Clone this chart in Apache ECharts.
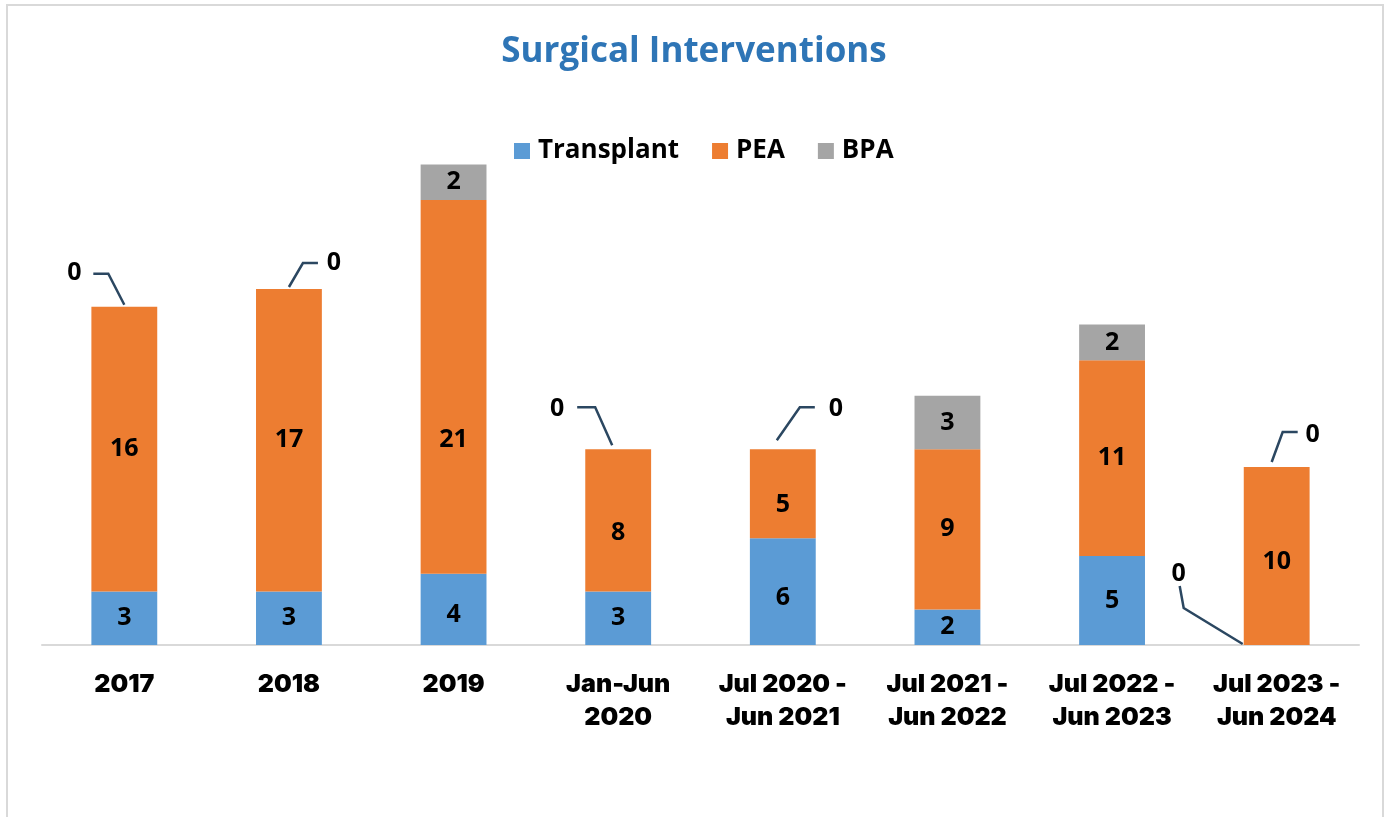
<!DOCTYPE html>
<html><head><meta charset="utf-8">
<script src="https://cdn.jsdelivr.net/npm/echarts@6/dist/echarts.min.js"></script>
<style>html,body{margin:0;padding:0;background:#fff}#c{width:1388px;height:817px}</style>
</head><body><div id="c"></div>
<script>
const categories = ['2017','2018','2019','Jan-Jun\n2020','Jul 2020 -\nJun 2021','Jul 2021 -\nJun 2022','Jul 2022 -\nJun 2023','Jul 2023 -\nJun 2024'];
const transplant = [3,3,4,3,6,2,5,0];
const pea = [16,17,21,8,5,9,11,10];
const bpa = [0,0,2,0,0,3,2,0];
const seriesNames = ['Transplant','PEA','BPA'];
const colors = ['#5B9BD5','#ED7D31','#A5A5A5'];

// callout layout for zero-value labels: label offset and leader-line points (start, elbow, end),
// all relative to the bar's anchor point (category centre, stack top)
const bpaCallouts = {
  0:{label:[-50,-34], line:[[0,-2],[-16,-33],[-31,-33]]},
  1:{label:[45,-26],  line:[[0,-2],[14,-26],[29,-26]]},
  3:{label:[-61,-40], line:[[-6,-4],[-23,-42],[-41,-42]]},
  4:{label:[53,-40],  line:[[-6,-9],[17,-42],[32,-42]]},
  7:{label:[36,-32],  line:[[-5,-5],[6,-35],[21,-35]]}
};
const transplantCallouts = {
  7:{label:[-98,-71], line:[[-34,-1],[-93,-37],[-97,-59]]}
};
// small vertical nudges of in-bar labels, as placed in the original
const peaLabelDy = {2:53, 3:12, 4:11, 7:6};
const transplantLabelDy = {2:5, 4:6};

const lblFont = {fontFamily:'Open Sans', fontWeight:'bold', fontSize:25, color:'#000'};
const leaderColor = '#2B4761';

const chart = echarts.init(document.getElementById('c'), null, {renderer:'canvas'});
chart.setOption({
  animation:false,
  backgroundColor:'#fff',
  title:{text:'Surgical Interventions', left:'center', top:30,
    textStyle:{fontFamily:'Open Sans', fontWeight:'bold', fontSize:35, color:'#2E75B6'}},
  legend:{left:509, top:133, itemWidth:16, itemHeight:16, itemGap:33, icon:'rect',
    textStyle:{fontFamily:'Open Sans', fontWeight:'bold', fontSize:26, color:'#000', padding:[0,0,0,3]},
    data:seriesNames},
  grid:{left:42, right:29, top:111, bottom:172},
  xAxis:{type:'category', data:categories,
    axisLine:{lineStyle:{color:'#D9D9D9', width:2}}, axisTick:{show:false},
    axisLabel:{interval:0, margin:23, fontFamily:'Inter', fontWeight:900, fontSize:25, lineHeight:33, color:'#000'}},
  yAxis:{type:'value', min:0, max:30, show:false, splitLine:{show:false}},
  series:[
    {name:'Transplant', type:'bar', stack:'s', barWidth:'40%', data:transplant,
      itemStyle:{color:colors[0]},
      label:{show:true, position:'inside', ...lblFont},
      labelLayout:function(p){ const o=transplantCallouts[p.dataIndex]; if(o) return {dx:o.label[0],dy:o.label[1]};
        return {dy: transplantLabelDy[p.dataIndex]||0}; }},
    {name:'PEA', type:'bar', stack:'s', barWidth:'40%', data:pea,
      itemStyle:{color:colors[1]},
      label:{show:true, position:'inside', ...lblFont},
      labelLayout:function(p){ return {dy: peaLabelDy[p.dataIndex]||0}; }},
    {name:'BPA', type:'bar', stack:'s', barWidth:'40%', data:bpa,
      itemStyle:{color:colors[2]},
      label:{show:true, position:'inside', ...lblFont},
      labelLayout:function(p){ const o=bpaCallouts[p.dataIndex]; return o?{dx:o.label[0],dy:o.label[1]}:{}; }}
  ]
});

// leader lines, positioned through the chart's own scales
const graphics = [{type:'rect', shape:{x:7,y:5,width:1376,height:840}, style:{fill:'none', stroke:'#D9D9D9', lineWidth:2}, silent:true, z:-10}];
function addLeader(idx, value, callout){
  const a = chart.convertToPixel({seriesIndex:0}, [idx, value]);
  graphics.push({type:'polyline', z:100, silent:true,
    shape:{points:callout.line.map(p=>[a[0]+p[0], a[1]+p[1]])},
    style:{stroke:leaderColor, lineWidth:2.5, fill:'none'}});
}
Object.keys(bpaCallouts).forEach(k=>{ const i=+k; addLeader(i, transplant[i]+pea[i]+bpa[i], bpaCallouts[k]); });
Object.keys(transplantCallouts).forEach(k=>{ const i=+k; addLeader(i, transplant[i], transplantCallouts[k]); });
chart.setOption({graphic:graphics});
</script></body></html>
